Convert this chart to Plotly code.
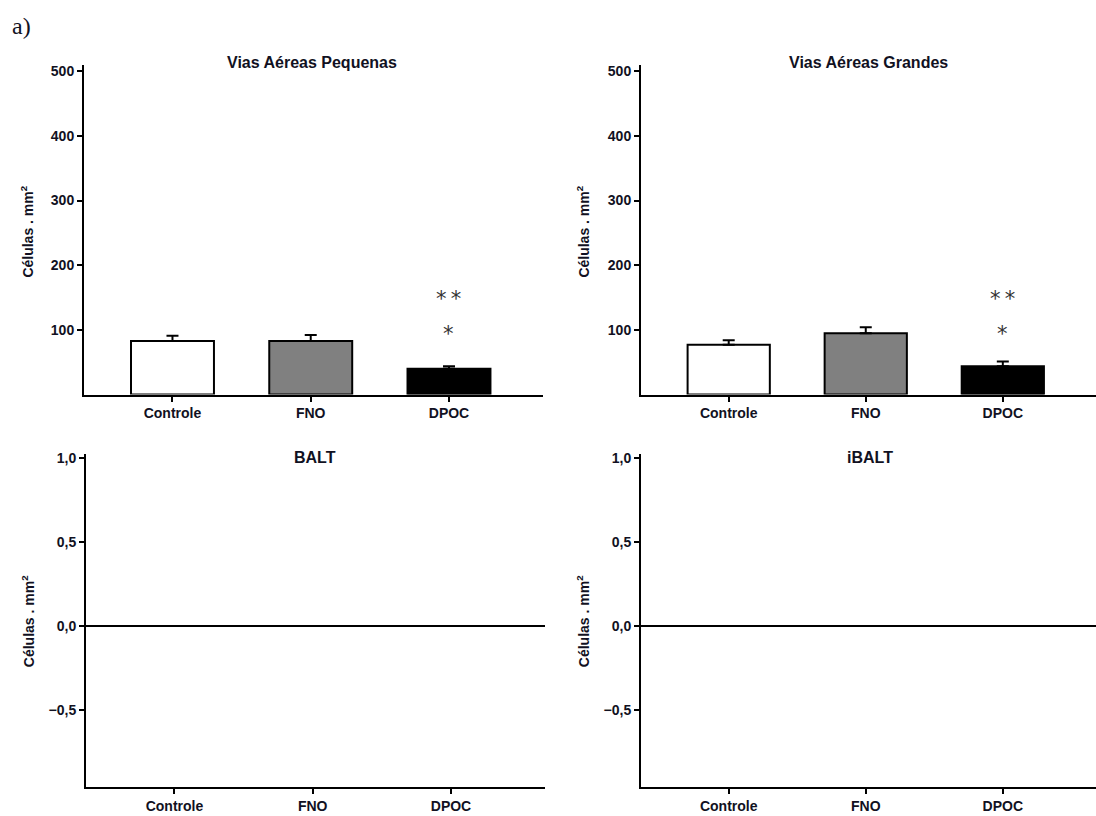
import plotly.graph_objects as go

# Groups and measured cell densities (mean and SEM)
groups = ["Controle", "FNO", "DPOC"]
bar_colors = ["#ffffff", "#808080", "#000000"]

small_airways_mean = [83, 83, 40]
small_airways_sem = [8, 9, 4]

large_airways_mean = [77, 95, 44]
large_airways_sem = [7, 9, 7]

balt_mean = [0, 0, 0]
ibalt_mean = [0, 0, 0]

# Significance marks above DPOC: (y position, text)
sig_marks = [(147, "*\u2009*"), (93, "*")]

panel_titles = ["Vias Aéreas Pequenas", "Vias Aéreas Grandes", "BALT", "iBALT"]
y_title = "Células . mm<sup>2</sup>"

W, H = 1096, 816
FONT = "Liberation Sans"
TXT = "#111122"


def px(x):
    return x / W


def py(y):
    return 1 - y / H


fig = go.Figure()

# Panel geometry in pixels: (x0, x1, y_top, y_bottom)
panels = [
    (84, 543, 60, 392),
    (641, 1096, 60, 392),
    (86, 545, 452, 787),
    (641, 1096, 452, 787),
]

axis_common = dict(
    showline=True, linecolor="black", linewidth=2,
    ticks="outside", ticklen=5, tickwidth=2, tickcolor="black",
    showgrid=False, zeroline=False,
    tickfont=dict(family=FONT, size=14, color=TXT, weight="bold"),
)

for i, (x0, x1, yt, yb) in enumerate(panels):
    n = "" if i == 0 else str(i + 1)
    xa = dict(axis_common)
    xa.update(domain=[px(x0), px(x1)], anchor="y" + n,
              type="category", categoryorder="array", categoryarray=groups,
              range=[-0.64, 2.68])
    ya = dict(axis_common)
    ya.update(domain=[py(yb), py(yt)], anchor="x" + n)
    if i < 2:
        ya.update(range=[0, 510], tickvals=[100, 200, 300, 400, 500])
    else:
        ya.update(range=[-0.955, 1.02], tickvals=[-0.5, 0, 0.5, 1.0],
                  tickformat=".1f", zeroline=True, zerolinecolor="black",
                  zerolinewidth=2)
    fig.layout["xaxis" + n] = xa
    fig.layout["yaxis" + n] = ya

# Bars with upward error bars
for i, (means, sems) in enumerate([(small_airways_mean, small_airways_sem),
                                   (large_airways_mean, large_airways_sem)]):
    n = "" if i == 0 else str(i + 1)
    fig.add_trace(go.Bar(
        x=groups, y=means, xaxis="x" + n, yaxis="y" + n,
        width=0.6,
        marker=dict(color=bar_colors, line=dict(color="black", width=2)),
        error_y=dict(type="data", array=sems, arrayminus=[0] * len(sems),
                     symmetric=False, color="black", thickness=2, width=6),
        showlegend=False, hoverinfo="skip",
    ))
    for yv, txt in sig_marks:
        fig.add_annotation(x="DPOC", y=yv, xref="x" + n, yref="y" + n,
                           text=txt, showarrow=False,
                           xanchor="center", yanchor="middle",
                           font=dict(family="DejaVu Sans", size=21,
                                     color="#333333"))

for i, means in [(2, balt_mean), (3, ibalt_mean)]:
    n = str(i + 1)
    fig.add_trace(go.Bar(
        x=groups, y=means, xaxis="x" + n, yaxis="y" + n, width=0.6,
        marker=dict(color=bar_colors, line=dict(color="black", width=0)),
        showlegend=False, hoverinfo="skip",
    ))

# Panel titles
title_pos = [(312, 58), (868, 58), (315, 455), (870, 455)]
for (tx, ty), t in zip(title_pos, panel_titles):
    fig.add_annotation(x=px(tx), y=py(ty), xref="paper", yref="paper",
                       text="<b>" + t + "</b>", showarrow=False,
                       xanchor="center", yanchor="middle",
                       font=dict(family=FONT, size=16, color=TXT))

# Y-axis titles
ytitle_pos = [(27, 228), (583, 228), (28, 620), (583, 620)]
for tx, ty in ytitle_pos:
    fig.add_annotation(x=px(tx), y=py(ty), xref="paper", yref="paper",
                       text="<b>" + y_title + "</b>", showarrow=False,
                       textangle=-90, xanchor="center", yanchor="middle",
                       font=dict(family=FONT, size=14, color=TXT))

# Figure label
fig.add_annotation(x=px(10), y=py(21), xref="paper", yref="paper",
                   text="a)", showarrow=False, xanchor="left", yanchor="middle",
                   font=dict(family="Liberation Serif", size=24, color=TXT))

fig.update_layout(
    width=W, height=H,
    margin=dict(l=0, r=0, t=0, b=0),
    paper_bgcolor="white", plot_bgcolor="white",
    separators=",.",
    font=dict(family=FONT, color=TXT),
    bargap=0.4,
)

fig.write_html("out.html")
